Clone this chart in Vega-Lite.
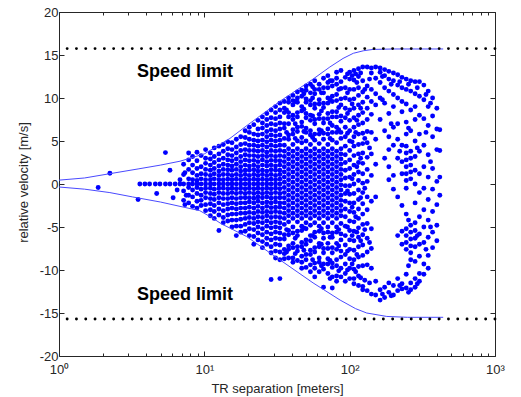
{
"$schema":"https://vega.github.io/schema/vega-lite/v6.json",
"width":436,"height":344,
"autosize":{"type":"none"},
"padding":{"left":59,"top":12,"right":26,"bottom":41},
"background":"white",
"config":{"view":{"stroke":"#262626","strokeWidth":1},"font":"Liberation Sans"},
"datasets":{
"pts":[
{"d":1.86,"v":-0.4},{"d":2.24,"v":1.25},{"d":3.5,"v":-1.8},{"d":3.6,"v":0},{"d":3.9,"v":0},{"d":4.2,"v":0},{"d":4.6,"v":0},{"d":4.95,"v":0},{"d":5.4,"v":0},{"d":5.8,"v":0},{"d":6.3,"v":0},{"d":6.8,"v":0},{"d":5.4,"v":3.65},{"d":4.7,"v":-1.1},{"d":5.8,"v":1.6},{"d":6.8,"v":0.5},{"d":6.5,"v":-0.7},{"d":7.35,"v":1.3},{"d":7.5,"v":-1.3},{"d":7.35,"v":-2.4},{"d":6.1,"v":-1.6},
{"d":7.2,"v":0},{"d":7.2,"v":1.1},{"d":7.2,"v":-0.8},{"d":7.2,"v":2.3},{"d":7.2,"v":-1.9},
{"d":7.8,"v":0},{"d":7.8,"v":0.6},{"d":7.8,"v":-0.4},{"d":7.8,"v":1.7},{"d":7.8,"v":-1.3},{"d":7.8,"v":2.8},{"d":7.8,"v":-2.2},{"d":7.8,"v":3.6},
{"d":8.3,"v":0},{"d":8.3,"v":0.5},{"d":8.3,"v":1.3},{"d":8.3,"v":-0.7},{"d":8.3,"v":-1.5},{"d":8.3,"v":2.2},{"d":8.3,"v":3.2},{"d":8.3,"v":-2.6},
{"d":8.9,"v":0},{"d":8.9,"v":0.4},{"d":8.9,"v":1.0},{"d":8.9,"v":-0.4},{"d":8.9,"v":-1.1},{"d":8.9,"v":1.8},{"d":8.9,"v":-2.0},{"d":8.9,"v":2.7},{"d":8.9,"v":-2.8},{"d":8.9,"v":3.7},
{"d":9.5,"v":0},{"d":9.5,"v":0.6},{"d":9.5,"v":1.2},{"d":9.5,"v":-0.6},{"d":9.5,"v":-1.3},{"d":9.5,"v":2.0},{"d":9.5,"v":-1.9},{"d":9.5,"v":3.3},{"d":9.5,"v":-2.5},
{"d":10.2,"v":0},{"d":10.2,"v":0.5},{"d":10.2,"v":1.1},{"d":10.2,"v":1.7},{"d":10.2,"v":-0.5},{"d":10.2,"v":-1.0},{"d":10.2,"v":-1.6},{"d":10.2,"v":2.4},{"d":10.2,"v":-2.4},{"d":10.2,"v":3.0},{"d":10.2,"v":-3.1},{"d":10.2,"v":4.0},
{"d":11.0,"v":0},{"d":11.0,"v":0.5},{"d":11.0,"v":1.0},{"d":11.0,"v":1.6},{"d":11.0,"v":2.2},{"d":11.0,"v":-0.5},{"d":11.0,"v":-1.1},{"d":11.0,"v":-1.7},{"d":11.0,"v":-2.3},{"d":11.0,"v":2.9},{"d":11.0,"v":-3.0},{"d":11.0,"v":3.6},{"d":11.0,"v":-3.7},
{"d":11.7,"v":0},{"d":11.7,"v":0.6},{"d":11.7,"v":1.2},{"d":11.7,"v":1.8},{"d":11.7,"v":2.5},{"d":11.7,"v":-0.6},{"d":11.7,"v":-1.2},{"d":11.7,"v":-1.8},{"d":11.7,"v":-2.5},{"d":11.7,"v":3.2},{"d":11.7,"v":-3.2},{"d":11.7,"v":4.2},{"d":11.7,"v":-4.0},
{"d":12.6,"v":0},{"d":12.6,"v":0.5},{"d":12.6,"v":1.0},{"d":12.6,"v":1.5},{"d":12.6,"v":2.1},{"d":12.6,"v":2.8},{"d":12.6,"v":3.5},{"d":12.6,"v":-0.5},{"d":12.6,"v":-1.0},{"d":12.6,"v":-1.6},{"d":12.6,"v":-2.2},{"d":12.6,"v":-2.9},{"d":12.6,"v":-3.6},{"d":12.6,"v":4.4},{"d":12.6,"v":-5.4},
{"d":13.5,"v":0},{"d":13.5,"v":0.5},{"d":13.5,"v":1.1},{"d":13.5,"v":1.7},{"d":13.5,"v":2.3},{"d":13.5,"v":3.0},{"d":13.5,"v":-0.5},{"d":13.5,"v":-1.1},{"d":13.5,"v":-1.7},{"d":13.5,"v":-2.4},{"d":13.5,"v":-3.1},{"d":13.5,"v":3.8},{"d":13.5,"v":-3.9},{"d":13.5,"v":4.6},{"d":13.5,"v":-4.5},
{"d":14.5,"v":0},{"d":14.5,"v":0.55},{"d":14.5,"v":1.1},{"d":14.5,"v":1.65},{"d":14.5,"v":2.2},{"d":14.5,"v":2.8},{"d":14.5,"v":3.4},{"d":14.5,"v":4.1},{"d":14.5,"v":-0.55},{"d":14.5,"v":-1.1},{"d":14.5,"v":-1.7},{"d":14.5,"v":-2.3},{"d":14.5,"v":-2.9},{"d":14.5,"v":-3.6},{"d":14.5,"v":-4.3},{"d":14.5,"v":4.9},
{"d":15.5,"v":0},{"d":15.5,"v":0.5},{"d":15.5,"v":1.0},{"d":15.5,"v":1.6},{"d":15.5,"v":2.1},{"d":15.5,"v":2.7},{"d":15.5,"v":3.3},{"d":15.5,"v":4.0},{"d":15.5,"v":4.8},{"d":15.5,"v":-0.5},{"d":15.5,"v":-1.0},{"d":15.5,"v":-1.6},{"d":15.5,"v":-2.2},{"d":15.5,"v":-2.8},{"d":15.5,"v":-3.5},{"d":15.5,"v":-4.2},{"d":15.5,"v":-5.0},
{"d":16.6,"v":0},{"d":16.6,"v":0.55},{"d":16.6,"v":1.1},{"d":16.6,"v":1.7},{"d":16.6,"v":2.3},{"d":16.6,"v":2.9},{"d":16.6,"v":3.6},{"d":16.6,"v":4.3},{"d":16.6,"v":5.2},{"d":16.6,"v":-0.55},{"d":16.6,"v":-1.1},{"d":16.6,"v":-1.7},{"d":16.6,"v":-2.3},{"d":16.6,"v":-2.9},{"d":16.6,"v":-3.5},{"d":16.6,"v":-4.2},{"d":16.6,"v":-4.9},{"d":16.6,"v":-6.0},
{"d":17.8,"v":0},{"d":17.8,"v":0.5},{"d":17.8,"v":1.0},{"d":17.8,"v":1.5},{"d":17.8,"v":2.0},{"d":17.8,"v":2.6},{"d":17.8,"v":3.2},{"d":17.8,"v":3.9},{"d":17.8,"v":4.6},{"d":17.8,"v":5.5},{"d":17.8,"v":-0.5},{"d":17.8,"v":-1.0},{"d":17.8,"v":-1.6},{"d":17.8,"v":-2.2},{"d":17.8,"v":-2.8},{"d":17.8,"v":-3.4},{"d":17.8,"v":-4.1},{"d":17.8,"v":-4.9},{"d":17.8,"v":-5.6},
{"d":19.1,"v":0},{"d":19.1,"v":0.55},{"d":19.1,"v":1.1},{"d":19.1,"v":1.6},{"d":19.1,"v":2.2},{"d":19.1,"v":2.8},{"d":19.1,"v":3.4},{"d":19.1,"v":4.0},{"d":19.1,"v":4.7},{"d":19.1,"v":5.4},{"d":19.1,"v":6.2},{"d":19.1,"v":-0.55},{"d":19.1,"v":-1.1},{"d":19.1,"v":-1.6},{"d":19.1,"v":-2.2},{"d":19.1,"v":-2.8},{"d":19.1,"v":-3.4},{"d":19.1,"v":-4.0},{"d":19.1,"v":-4.7},{"d":19.1,"v":-5.5},
{"d":20.4,"v":0},{"d":20.4,"v":0.5},{"d":20.4,"v":1.0},{"d":20.4,"v":1.6},{"d":20.4,"v":2.1},{"d":20.4,"v":2.7},{"d":20.4,"v":3.3},{"d":20.4,"v":3.9},{"d":20.4,"v":4.5},{"d":20.4,"v":5.2},{"d":20.4,"v":6.0},{"d":20.4,"v":6.6},{"d":20.4,"v":-0.5},{"d":20.4,"v":-1.0},{"d":20.4,"v":-1.6},{"d":20.4,"v":-2.1},{"d":20.4,"v":-2.7},{"d":20.4,"v":-3.3},{"d":20.4,"v":-3.9},{"d":20.4,"v":-4.5},{"d":20.4,"v":-5.2},{"d":20.4,"v":-6.0},
{"d":21.9,"v":0},{"d":21.9,"v":0.55},{"d":21.9,"v":1.1},{"d":21.9,"v":1.65},{"d":21.9,"v":2.2},{"d":21.9,"v":2.75},{"d":21.9,"v":3.3},{"d":21.9,"v":3.9},{"d":21.9,"v":4.5},{"d":21.9,"v":5.1},{"d":21.9,"v":5.8},{"d":21.9,"v":6.9},{"d":21.9,"v":-0.55},{"d":21.9,"v":-1.1},{"d":21.9,"v":-1.65},{"d":21.9,"v":-2.2},{"d":21.9,"v":-2.8},{"d":21.9,"v":-3.4},{"d":21.9,"v":-4.0},{"d":21.9,"v":-4.6},{"d":21.9,"v":-5.3},{"d":21.9,"v":-6.1},{"d":21.9,"v":-7.0},
{"d":23.4,"v":0},{"d":23.4,"v":0.5},{"d":23.4,"v":1.0},{"d":23.4,"v":1.5},{"d":23.4,"v":2.0},{"d":23.4,"v":2.6},{"d":23.4,"v":3.2},{"d":23.4,"v":3.8},{"d":23.4,"v":4.4},{"d":23.4,"v":5.0},{"d":23.4,"v":5.7},{"d":23.4,"v":6.4},{"d":23.4,"v":7.4},{"d":23.4,"v":-0.5},{"d":23.4,"v":-1.0},{"d":23.4,"v":-1.5},{"d":23.4,"v":-2.0},{"d":23.4,"v":-2.6},{"d":23.4,"v":-3.2},{"d":23.4,"v":-3.8},{"d":23.4,"v":-4.4},{"d":23.4,"v":-5.0},{"d":23.4,"v":-5.7},{"d":23.4,"v":-6.5},
{"d":25.1,"v":0},{"d":25.1,"v":0.55},{"d":25.1,"v":1.1},{"d":25.1,"v":1.6},{"d":25.1,"v":2.2},{"d":25.1,"v":2.8},{"d":25.1,"v":3.3},{"d":25.1,"v":3.9},{"d":25.1,"v":4.5},{"d":25.1,"v":5.1},{"d":25.1,"v":5.8},{"d":25.1,"v":6.5},{"d":25.1,"v":7.1},{"d":25.1,"v":7.8},{"d":25.1,"v":-0.55},{"d":25.1,"v":-1.1},{"d":25.1,"v":-1.6},{"d":25.1,"v":-2.2},{"d":25.1,"v":-2.8},{"d":25.1,"v":-3.3},{"d":25.1,"v":-3.9},{"d":25.1,"v":-4.5},{"d":25.1,"v":-5.2},{"d":25.1,"v":-5.9},{"d":25.1,"v":-6.7},{"d":25.1,"v":-7.4},
{"d":26.9,"v":0},{"d":26.9,"v":0.5},{"d":26.9,"v":1.0},{"d":26.9,"v":1.5},{"d":26.9,"v":2.1},{"d":26.9,"v":2.6},{"d":26.9,"v":3.2},{"d":26.9,"v":3.7},{"d":26.9,"v":4.3},{"d":26.9,"v":4.9},{"d":26.9,"v":5.5},{"d":26.9,"v":6.1},{"d":26.9,"v":6.8},{"d":26.9,"v":7.5},{"d":26.9,"v":8.2},{"d":26.9,"v":-0.5},{"d":26.9,"v":-1.0},{"d":26.9,"v":-1.5},{"d":26.9,"v":-2.1},{"d":26.9,"v":-2.6},{"d":26.9,"v":-3.2},{"d":26.9,"v":-3.7},{"d":26.9,"v":-4.3},{"d":26.9,"v":-4.9},{"d":26.9,"v":-5.6},{"d":26.9,"v":-6.3},{"d":26.9,"v":-7.0},
{"d":28.8,"v":0},{"d":28.8,"v":0.55},{"d":28.8,"v":1.1},{"d":28.8,"v":1.65},{"d":28.8,"v":2.2},{"d":28.8,"v":2.75},{"d":28.8,"v":3.3},{"d":28.8,"v":3.9},{"d":28.8,"v":4.5},{"d":28.8,"v":5.1},{"d":28.8,"v":5.7},{"d":28.8,"v":6.3},{"d":28.8,"v":7.0},{"d":28.8,"v":7.7},{"d":28.8,"v":8.6},{"d":28.8,"v":-0.55},{"d":28.8,"v":-1.1},{"d":28.8,"v":-1.65},{"d":28.8,"v":-2.2},{"d":28.8,"v":-2.75},{"d":28.8,"v":-3.3},{"d":28.8,"v":-3.9},{"d":28.8,"v":-4.5},{"d":28.8,"v":-5.1},{"d":28.8,"v":-5.8},{"d":28.8,"v":-6.5},{"d":28.8,"v":-7.3},{"d":28.8,"v":-8.0},{"d":28.8,"v":-11.1},
{"d":30.9,"v":0},{"d":30.9,"v":0.5},{"d":30.9,"v":1.0},{"d":30.9,"v":1.6},{"d":30.9,"v":2.1},{"d":30.9,"v":2.7},{"d":30.9,"v":3.2},{"d":30.9,"v":3.8},{"d":30.9,"v":4.4},{"d":30.9,"v":5.0},{"d":30.9,"v":5.6},{"d":30.9,"v":6.2},{"d":30.9,"v":6.9},{"d":30.9,"v":7.6},{"d":30.9,"v":8.3},{"d":30.9,"v":9.0},{"d":30.9,"v":-0.5},{"d":30.9,"v":-1.0},{"d":30.9,"v":-1.6},{"d":30.9,"v":-2.1},{"d":30.9,"v":-2.7},{"d":30.9,"v":-3.2},{"d":30.9,"v":-3.8},{"d":30.9,"v":-4.4},{"d":30.9,"v":-5.0},{"d":30.9,"v":-5.6},{"d":30.9,"v":-6.3},{"d":30.9,"v":-7.0},{"d":30.9,"v":-7.8},{"d":30.9,"v":-8.6},
{"d":33.1,"v":0},{"d":33.1,"v":0.55},{"d":33.1,"v":1.1},{"d":33.1,"v":1.6},{"d":33.1,"v":2.2},{"d":33.1,"v":2.7},{"d":33.1,"v":3.3},{"d":33.1,"v":3.9},{"d":33.1,"v":4.5},{"d":33.1,"v":5.1},{"d":33.1,"v":5.7},{"d":33.1,"v":6.4},{"d":33.1,"v":7.1},{"d":33.1,"v":7.8},{"d":33.1,"v":8.6},{"d":33.1,"v":9.4},{"d":33.1,"v":-0.55},{"d":33.1,"v":-1.1},{"d":33.1,"v":-1.6},{"d":33.1,"v":-2.2},{"d":33.1,"v":-2.7},{"d":33.1,"v":-3.3},{"d":33.1,"v":-3.9},{"d":33.1,"v":-4.5},{"d":33.1,"v":-5.1},{"d":33.1,"v":-5.7},{"d":33.1,"v":-6.4},{"d":33.1,"v":-7.1},{"d":33.1,"v":-7.9},{"d":33.1,"v":-8.8},{"d":33.1,"v":-11.0},
{"d":35.5,"v":-4.0},{"d":35.5,"v":-3.4},{"d":35.5,"v":-2.8},{"d":35.5,"v":-2.2},{"d":35.5,"v":-1.6},{"d":35.5,"v":-1.0},{"d":35.5,"v":-0.4},{"d":35.5,"v":0.2},{"d":35.5,"v":0.8},{"d":35.5,"v":1.4},{"d":35.5,"v":2.0},{"d":35.5,"v":2.6},{"d":35.5,"v":3.2},{"d":35.5,"v":3.8},{"d":35.5,"v":4.5},{"d":35.5,"v":5.3},{"d":35.5,"v":6.5},{"d":35.5,"v":7.0},{"d":35.5,"v":8.3},{"d":35.5,"v":8.8},{"d":35.5,"v":9.6},{"d":35.5,"v":-4.7},{"d":35.5,"v":-5.9},{"d":35.5,"v":-6.4},{"d":35.5,"v":-7.6},{"d":35.5,"v":-8.1},{"d":35.5,"v":-8.7},
{"d":36.8,"v":6.0},{"d":36.8,"v":8.6},{"d":36.8,"v":-5.3},{"d":36.8,"v":-7.9},
{"d":38.0,"v":-3.7},{"d":38.0,"v":-3.1},{"d":38.0,"v":-2.5},{"d":38.0,"v":-1.9},{"d":38.0,"v":-1.3},{"d":38.0,"v":-0.7},{"d":38.0,"v":-0.1},{"d":38.0,"v":0.5},{"d":38.0,"v":1.1},{"d":38.0,"v":1.7},{"d":38.0,"v":2.3},{"d":38.0,"v":2.9},{"d":38.0,"v":3.5},{"d":38.0,"v":4.1},{"d":38.0,"v":5.2},{"d":38.0,"v":5.7},{"d":38.0,"v":7.0},{"d":38.0,"v":7.8},{"d":38.0,"v":8.3},{"d":38.0,"v":9.5},{"d":38.0,"v":10.0},{"d":38.0,"v":-4.4},{"d":38.0,"v":-5.4},{"d":38.0,"v":-5.9},{"d":38.0,"v":-7.2},{"d":38.0,"v":-7.6},{"d":38.0,"v":-8.6},
{"d":40.7,"v":-4.0},{"d":40.7,"v":-3.4},{"d":40.7,"v":-2.8},{"d":40.7,"v":-2.2},{"d":40.7,"v":-1.6},{"d":40.7,"v":-1.0},{"d":40.7,"v":-0.4},{"d":40.7,"v":0.2},{"d":40.7,"v":0.8},{"d":40.7,"v":1.4},{"d":40.7,"v":2.0},{"d":40.7,"v":2.6},{"d":40.7,"v":3.2},{"d":40.7,"v":3.8},{"d":40.7,"v":4.6},{"d":40.7,"v":5.8},{"d":40.7,"v":6.3},{"d":40.7,"v":7.5},{"d":40.7,"v":8.0},{"d":40.7,"v":9.2},{"d":40.7,"v":9.7},{"d":40.7,"v":10.3},{"d":40.7,"v":-5.0},{"d":40.7,"v":-5.7},{"d":40.7,"v":-6.9},{"d":40.7,"v":-7.4},{"d":40.7,"v":-8.6},{"d":40.7,"v":-9.1},
{"d":42.2,"v":5.3},{"d":42.2,"v":7.0},{"d":42.2,"v":9.6},{"d":42.2,"v":-6.3},{"d":42.2,"v":-8.1},
{"d":43.7,"v":-3.7},{"d":43.7,"v":-3.1},{"d":43.7,"v":-2.5},{"d":43.7,"v":-1.9},{"d":43.7,"v":-1.3},{"d":43.7,"v":-0.7},{"d":43.7,"v":-0.1},{"d":43.7,"v":0.5},{"d":43.7,"v":1.1},{"d":43.7,"v":1.7},{"d":43.7,"v":2.3},{"d":43.7,"v":2.9},{"d":43.7,"v":3.5},{"d":43.7,"v":4.1},{"d":43.7,"v":5.0},{"d":43.7,"v":6.1},{"d":43.7,"v":6.6},{"d":43.7,"v":7.8},{"d":43.7,"v":8.3},{"d":43.7,"v":9.5},{"d":43.7,"v":10.0},{"d":43.7,"v":10.7},{"d":43.7,"v":-4.4},{"d":43.7,"v":-5.5},{"d":43.7,"v":-6.0},{"d":43.7,"v":-7.3},{"d":43.7,"v":-7.8},{"d":43.7,"v":-8.9},
{"d":46.8,"v":-4.0},{"d":46.8,"v":-3.4},{"d":46.8,"v":-2.8},{"d":46.8,"v":-2.2},{"d":46.8,"v":-1.6},{"d":46.8,"v":-1.0},{"d":46.8,"v":-0.4},{"d":46.8,"v":0.2},{"d":46.8,"v":0.8},{"d":46.8,"v":1.4},{"d":46.8,"v":2.0},{"d":46.8,"v":2.6},{"d":46.8,"v":3.2},{"d":46.8,"v":3.8},{"d":46.8,"v":4.8},{"d":46.8,"v":5.4},{"d":46.8,"v":6.7},{"d":46.8,"v":7.2},{"d":46.8,"v":8.5},{"d":46.8,"v":9.0},{"d":46.8,"v":10.2},{"d":46.8,"v":10.9},{"d":46.8,"v":-4.9},{"d":46.8,"v":-5.4},{"d":46.8,"v":-6.8},{"d":46.8,"v":-7.3},{"d":46.8,"v":-8.4},{"d":46.8,"v":-9.1},{"d":46.8,"v":-9.8},
{"d":48.4,"v":6.1},{"d":48.4,"v":8.7},{"d":48.4,"v":10.5},{"d":48.4,"v":-5.1},{"d":48.4,"v":-7.7},
{"d":50.1,"v":-3.7},{"d":50.1,"v":-3.1},{"d":50.1,"v":-2.5},{"d":50.1,"v":-1.9},{"d":50.1,"v":-1.3},{"d":50.1,"v":-0.7},{"d":50.1,"v":-0.1},{"d":50.1,"v":0.5},{"d":50.1,"v":1.1},{"d":50.1,"v":1.7},{"d":50.1,"v":2.3},{"d":50.1,"v":2.9},{"d":50.1,"v":3.5},{"d":50.1,"v":4.1},{"d":50.1,"v":5.0},{"d":50.1,"v":6.0},{"d":50.1,"v":6.5},{"d":50.1,"v":7.7},{"d":50.1,"v":8.2},{"d":50.1,"v":9.5},{"d":50.1,"v":9.9},{"d":50.1,"v":10.9},{"d":50.1,"v":11.4},{"d":50.1,"v":-4.5},{"d":50.1,"v":-5.2},{"d":50.1,"v":-6.5},{"d":50.1,"v":-7.0},{"d":50.1,"v":-8.2},{"d":50.1,"v":-8.8},{"d":50.1,"v":-9.7},
{"d":53.7,"v":-4.0},{"d":53.7,"v":-3.4},{"d":53.7,"v":-2.8},{"d":53.7,"v":-2.2},{"d":53.7,"v":-1.6},{"d":53.7,"v":-1.0},{"d":53.7,"v":-0.4},{"d":53.7,"v":0.2},{"d":53.7,"v":0.8},{"d":53.7,"v":1.4},{"d":53.7,"v":2.0},{"d":53.7,"v":2.6},{"d":53.7,"v":3.2},{"d":53.7,"v":3.8},{"d":53.7,"v":4.6},{"d":53.7,"v":5.7},{"d":53.7,"v":6.2},{"d":53.7,"v":7.4},{"d":53.7,"v":8.0},{"d":53.7,"v":9.2},{"d":53.7,"v":9.7},{"d":53.7,"v":10.6},{"d":53.7,"v":11.6},{"d":53.7,"v":-4.8},{"d":53.7,"v":-6.0},{"d":53.7,"v":-6.6},{"d":53.7,"v":-7.7},{"d":53.7,"v":-8.2},{"d":53.7,"v":-9.4},{"d":53.7,"v":-10.2},
{"d":55.6,"v":5.4},{"d":55.6,"v":7.9},{"d":55.6,"v":10.0},{"d":55.6,"v":11.3},{"d":55.6,"v":-6.0},{"d":55.6,"v":-8.8},
{"d":57.5,"v":-3.7},{"d":57.5,"v":-3.1},{"d":57.5,"v":-2.5},{"d":57.5,"v":-1.9},{"d":57.5,"v":-1.3},{"d":57.5,"v":-0.7},{"d":57.5,"v":-0.1},{"d":57.5,"v":0.5},{"d":57.5,"v":1.1},{"d":57.5,"v":1.7},{"d":57.5,"v":2.3},{"d":57.5,"v":2.9},{"d":57.5,"v":3.5},{"d":57.5,"v":4.1},{"d":57.5,"v":5.1},{"d":57.5,"v":5.8},{"d":57.5,"v":7.0},{"d":57.5,"v":7.5},{"d":57.5,"v":8.8},{"d":57.5,"v":9.3},{"d":57.5,"v":10.5},{"d":57.5,"v":11.0},{"d":57.5,"v":12.0},{"d":57.5,"v":-4.5},{"d":57.5,"v":-5.6},{"d":57.5,"v":-6.2},{"d":57.5,"v":-7.4},{"d":57.5,"v":-7.9},{"d":57.5,"v":-9.2},{"d":57.5,"v":-9.8},{"d":57.5,"v":-10.8},
{"d":61.7,"v":-4.0},{"d":61.7,"v":-3.4},{"d":61.7,"v":-2.8},{"d":61.7,"v":-2.2},{"d":61.7,"v":-1.6},{"d":61.7,"v":-1.0},{"d":61.7,"v":-0.4},{"d":61.7,"v":0.2},{"d":61.7,"v":0.8},{"d":61.7,"v":1.4},{"d":61.7,"v":2.0},{"d":61.7,"v":2.6},{"d":61.7,"v":3.2},{"d":61.7,"v":3.8},{"d":61.7,"v":4.7},{"d":61.7,"v":5.8},{"d":61.7,"v":6.3},{"d":61.7,"v":7.6},{"d":61.7,"v":8.1},{"d":61.7,"v":9.3},{"d":61.7,"v":9.8},{"d":61.7,"v":11.0},{"d":61.7,"v":11.6},{"d":61.7,"v":-4.9},{"d":61.7,"v":-5.5},{"d":61.7,"v":-6.9},{"d":61.7,"v":-7.3},{"d":61.7,"v":-8.6},{"d":61.7,"v":-9.1},{"d":61.7,"v":-10.2},
{"d":63.9,"v":6.2},{"d":63.9,"v":8.5},{"d":63.9,"v":10.6},{"d":63.9,"v":-5.2},{"d":63.9,"v":-7.0},{"d":63.9,"v":-9.5},
{"d":66.1,"v":-3.7},{"d":66.1,"v":-3.1},{"d":66.1,"v":-2.5},{"d":66.1,"v":-1.9},{"d":66.1,"v":-1.3},{"d":66.1,"v":-0.7},{"d":66.1,"v":-0.1},{"d":66.1,"v":0.5},{"d":66.1,"v":1.1},{"d":66.1,"v":1.7},{"d":66.1,"v":2.3},{"d":66.1,"v":2.9},{"d":66.1,"v":3.5},{"d":66.1,"v":4.1},{"d":66.1,"v":5.2},{"d":66.1,"v":5.9},{"d":66.1,"v":7.1},{"d":66.1,"v":7.6},{"d":66.1,"v":8.9},{"d":66.1,"v":9.4},{"d":66.1,"v":10.6},{"d":66.1,"v":11.2},{"d":66.1,"v":12.3},{"d":66.1,"v":-4.5},{"d":66.1,"v":-5.7},{"d":66.1,"v":-6.3},{"d":66.1,"v":-7.5},{"d":66.1,"v":-8.0},{"d":66.1,"v":-9.3},{"d":66.1,"v":-9.9},{"d":66.1,"v":-12.0},
{"d":70.8,"v":-4.0},{"d":70.8,"v":-3.4},{"d":70.8,"v":-2.8},{"d":70.8,"v":-2.2},{"d":70.8,"v":-1.6},{"d":70.8,"v":-1.0},{"d":70.8,"v":-0.4},{"d":70.8,"v":0.2},{"d":70.8,"v":0.8},{"d":70.8,"v":1.4},{"d":70.8,"v":2.0},{"d":70.8,"v":2.6},{"d":70.8,"v":3.2},{"d":70.8,"v":3.8},{"d":70.8,"v":4.6},{"d":70.8,"v":5.8},{"d":70.8,"v":6.4},{"d":70.8,"v":7.6},{"d":70.8,"v":8.2},{"d":70.8,"v":9.4},{"d":70.8,"v":10.0},{"d":70.8,"v":11.2},{"d":70.8,"v":11.8},{"d":70.8,"v":12.6},{"d":70.8,"v":-5.0},{"d":70.8,"v":-5.6},{"d":70.8,"v":-6.9},{"d":70.8,"v":-7.5},{"d":70.8,"v":-8.7},{"d":70.8,"v":-9.3},{"d":70.8,"v":-10.4},
{"d":73.3,"v":5.3},{"d":73.3,"v":7.1},{"d":73.3,"v":9.8},{"d":73.3,"v":12.0},{"d":73.3,"v":-6.2},{"d":73.3,"v":-8.9},{"d":73.3,"v":-11.0},
{"d":75.9,"v":-3.7},{"d":75.9,"v":-3.1},{"d":75.9,"v":-2.5},{"d":75.9,"v":-1.9},{"d":75.9,"v":-1.3},{"d":75.9,"v":-0.7},{"d":75.9,"v":-0.1},{"d":75.9,"v":0.5},{"d":75.9,"v":1.1},{"d":75.9,"v":1.7},{"d":75.9,"v":2.3},{"d":75.9,"v":2.9},{"d":75.9,"v":3.5},{"d":75.9,"v":4.1},{"d":75.9,"v":5.1},{"d":75.9,"v":6.0},{"d":75.9,"v":6.8},{"d":75.9,"v":7.8},{"d":75.9,"v":8.4},{"d":75.9,"v":9.6},{"d":75.9,"v":10.2},{"d":75.9,"v":11.4},{"d":75.9,"v":12.0},{"d":75.9,"v":-4.5},{"d":75.9,"v":-5.7},{"d":75.9,"v":-6.2},{"d":75.9,"v":-7.4},{"d":75.9,"v":-8.0},{"d":75.9,"v":-9.2},{"d":75.9,"v":-9.7},{"d":75.9,"v":-10.8},{"d":75.9,"v":-12.1},
{"d":81.3,"v":-4.0},{"d":81.3,"v":-3.4},{"d":81.3,"v":-2.8},{"d":81.3,"v":-2.2},{"d":81.3,"v":-1.6},{"d":81.3,"v":-1.0},{"d":81.3,"v":-0.4},{"d":81.3,"v":0.2},{"d":81.3,"v":0.8},{"d":81.3,"v":1.4},{"d":81.3,"v":2.0},{"d":81.3,"v":2.6},{"d":81.3,"v":3.2},{"d":81.3,"v":3.8},{"d":81.3,"v":4.8},{"d":81.3,"v":6.0},{"d":81.3,"v":6.6},{"d":81.3,"v":7.8},{"d":81.3,"v":8.4},{"d":81.3,"v":9.7},{"d":81.3,"v":10.4},{"d":81.3,"v":11.6},{"d":81.3,"v":12.3},{"d":81.3,"v":13.0},{"d":81.3,"v":-5.0},{"d":81.3,"v":-5.6},{"d":81.3,"v":-6.9},{"d":81.3,"v":-7.6},{"d":81.3,"v":-8.8},{"d":81.3,"v":-9.5},{"d":81.3,"v":-10.7},{"d":81.3,"v":-11.3},
{"d":84.1,"v":6.3},{"d":84.1,"v":8.9},{"d":84.1,"v":11.0},{"d":84.1,"v":-5.3},{"d":84.1,"v":-7.2},{"d":84.1,"v":-10.1},
{"d":87.1,"v":-3.7},{"d":87.1,"v":-3.1},{"d":87.1,"v":-2.5},{"d":87.1,"v":-1.9},{"d":87.1,"v":-1.3},{"d":87.1,"v":-0.7},{"d":87.1,"v":-0.1},{"d":87.1,"v":0.5},{"d":87.1,"v":1.1},{"d":87.1,"v":1.7},{"d":87.1,"v":2.3},{"d":87.1,"v":2.9},{"d":87.1,"v":3.5},{"d":87.1,"v":4.1},{"d":87.1,"v":5.3},{"d":87.1,"v":6.0},{"d":87.1,"v":7.3},{"d":87.1,"v":7.9},{"d":87.1,"v":9.2},{"d":87.1,"v":9.9},{"d":87.1,"v":11.1},{"d":87.1,"v":11.9},{"d":87.1,"v":13.2},{"d":87.1,"v":-4.6},{"d":87.1,"v":-5.8},{"d":87.1,"v":-6.5},{"d":87.1,"v":-7.8},{"d":87.1,"v":-8.5},{"d":87.1,"v":-9.8},{"d":87.1,"v":-10.8},
{"d":93.3,"v":-3.8},{"d":93.3,"v":-2.9},{"d":93.3,"v":-2.0},{"d":93.3,"v":-1.1},{"d":93.3,"v":-0.2},{"d":93.3,"v":0.7},{"d":93.3,"v":1.6},{"d":93.3,"v":2.5},{"d":93.3,"v":3.4},{"d":93.3,"v":4.4},{"d":93.3,"v":5.5},{"d":93.3,"v":6.6},{"d":93.3,"v":7.7},{"d":93.3,"v":8.8},{"d":93.3,"v":10.0},{"d":93.3,"v":11.2},{"d":93.3,"v":12.4},{"d":93.3,"v":-4.9},{"d":93.3,"v":-6.0},{"d":93.3,"v":-7.1},{"d":93.3,"v":-8.2},{"d":93.3,"v":-9.3},{"d":93.3,"v":-10.4},{"d":93.3,"v":-11.3},
{"d":96.6,"v":5.9},{"d":96.6,"v":8.2},{"d":96.6,"v":10.6},{"d":96.6,"v":12.8},{"d":96.6,"v":-0.8},{"d":96.6,"v":-5.0},{"d":96.6,"v":-7.8},{"d":96.6,"v":-10.0},
{"d":100,"v":-3.2},{"d":100,"v":-2.2},{"d":100,"v":-1.2},{"d":100,"v":-0.2},{"d":100,"v":0.8},{"d":100,"v":1.8},{"d":100,"v":2.8},{"d":100,"v":3.9},{"d":100,"v":5.0},{"d":100,"v":6.2},{"d":100,"v":7.4},{"d":100,"v":8.6},{"d":100,"v":9.8},{"d":100,"v":11.0},{"d":100,"v":12.2},{"d":100,"v":13.0},{"d":100,"v":-4.3},{"d":100,"v":-5.4},{"d":100,"v":-6.5},{"d":100,"v":-7.6},{"d":100,"v":-8.7},{"d":100,"v":-9.8},{"d":100,"v":-11.0},
{"d":104,"v":12.6},{"d":104,"v":9.3},{"d":104,"v":4.9},{"d":104,"v":0.6},{"d":104,"v":-2.7},{"d":104,"v":-6.0},{"d":104,"v":-9.3},
{"d":107,"v":13.2},{"d":107,"v":12.1},{"d":107,"v":11.0},{"d":107,"v":9.9},{"d":107,"v":8.8},{"d":107,"v":7.7},{"d":107,"v":6.6},{"d":107,"v":5.5},{"d":107,"v":4.4},{"d":107,"v":3.3},{"d":107,"v":2.2},{"d":107,"v":1.1},{"d":107,"v":0.0},{"d":107,"v":-1.1},{"d":107,"v":-2.2},{"d":107,"v":-3.3},{"d":107,"v":-4.4},{"d":107,"v":-5.5},{"d":107,"v":-6.6},{"d":107,"v":-7.7},{"d":107,"v":-8.8},{"d":107,"v":-9.9},{"d":107,"v":-11.0},{"d":107,"v":-11.6},
{"d":110,"v":12.8},{"d":110,"v":6.0},{"d":110,"v":-3.8},{"d":110,"v":-10.2},
{"d":112,"v":11.8},{"d":112,"v":7.4},{"d":112,"v":2.0},{"d":112,"v":-5.6},{"d":112,"v":-8.2},
{"d":115,"v":13.4},{"d":115,"v":12.5},{"d":115,"v":11.2},{"d":115,"v":10.3},{"d":115,"v":9.2},{"d":115,"v":8.0},{"d":115,"v":6.9},{"d":115,"v":5.8},{"d":115,"v":4.6},{"d":115,"v":3.5},{"d":115,"v":2.5},{"d":115,"v":1.4},{"d":115,"v":0.4},{"d":115,"v":-0.7},{"d":115,"v":-1.8},{"d":115,"v":-2.9},{"d":115,"v":-4.0},{"d":115,"v":-5.1},{"d":115,"v":-6.2},{"d":115,"v":-7.3},{"d":115,"v":-8.5},{"d":115,"v":-9.6},{"d":115,"v":-10.7},{"d":115,"v":-11.8},
{"d":119,"v":12.9},{"d":119,"v":8.8},{"d":119,"v":3.0},{"d":119,"v":-1.6},{"d":119,"v":-6.6},{"d":119,"v":-10.9},
{"d":123,"v":13.6},{"d":123,"v":12.0},{"d":123,"v":10.7},{"d":123,"v":9.5},{"d":123,"v":8.3},{"d":123,"v":7.1},{"d":123,"v":5.9},{"d":123,"v":4.7},{"d":123,"v":3.6},{"d":123,"v":2.4},{"d":123,"v":1.2},{"d":123,"v":0.1},{"d":123,"v":-1.0},{"d":123,"v":-2.3},{"d":123,"v":-3.5},{"d":123,"v":-4.7},{"d":123,"v":-5.9},{"d":123,"v":-7.1},{"d":123,"v":-8.3},{"d":123,"v":-9.5},{"d":123,"v":-11.9},{"d":123,"v":-12.3},
{"d":127,"v":11.0},{"d":127,"v":5.3},{"d":127,"v":-0.5},{"d":127,"v":-5.3},{"d":127,"v":-11.2},
{"d":132,"v":13.6},{"d":132,"v":11.4},{"d":132,"v":10.1},{"d":132,"v":8.8},{"d":132,"v":7.5},{"d":132,"v":6.1},{"d":132,"v":4.8},{"d":132,"v":3.1},{"d":132,"v":1.7},{"d":132,"v":0.3},{"d":132,"v":-1.5},{"d":132,"v":-3.0},{"d":132,"v":-4.6},{"d":132,"v":-6.3},{"d":132,"v":-7.9},{"d":132,"v":-9.4},{"d":132,"v":-12.4},
{"d":137,"v":12.2},{"d":137,"v":4.2},{"d":137,"v":-6.8},{"d":137,"v":-11.5},
{"d":141,"v":13.5},{"d":141,"v":12.9},{"d":141,"v":11.0},{"d":141,"v":9.6},{"d":141,"v":8.1},{"d":141,"v":6.0},{"d":141,"v":3.5},{"d":141,"v":1.0},{"d":141,"v":-2.0},{"d":141,"v":-5.2},{"d":141,"v":-7.5},{"d":141,"v":-9.8},{"d":141,"v":-12.8},
{"d":151,"v":13.6},{"d":151,"v":12.3},{"d":151,"v":10.5},{"d":151,"v":9.2},{"d":151,"v":5.2},{"d":151,"v":2.3},{"d":151,"v":-1.5},{"d":151,"v":-11.3},{"d":151,"v":-12.9},
{"d":162,"v":13.5},{"d":162,"v":13.0},{"d":162,"v":11.8},{"d":162,"v":10.0},{"d":162,"v":7.5},{"d":162,"v":-12.3},{"d":162,"v":-13.5},
{"d":168,"v":12.5},{"d":168,"v":9.8},{"d":168,"v":-12.8},
{"d":174,"v":13.3},{"d":174,"v":12.6},{"d":174,"v":11.2},{"d":174,"v":9.4},{"d":174,"v":6.2},{"d":174,"v":3.0},{"d":174,"v":-12.0},{"d":174,"v":-13.2},
{"d":186,"v":13.1},{"d":186,"v":12.2},{"d":186,"v":10.8},{"d":186,"v":8.2},{"d":186,"v":5.5},{"d":186,"v":4.0},{"d":186,"v":2.0},{"d":186,"v":0.5},{"d":186,"v":-11.5},{"d":186,"v":-12.6},
{"d":193,"v":11.6},{"d":193,"v":7.0},{"d":193,"v":-13.0},
{"d":200,"v":12.9},{"d":200,"v":12.0},{"d":200,"v":10.4},{"d":200,"v":9.0},{"d":200,"v":6.6},{"d":200,"v":4.5},{"d":200,"v":1.0},{"d":200,"v":-0.6},{"d":200,"v":-11.8},{"d":200,"v":-12.9},
{"d":214,"v":12.7},{"d":214,"v":11.5},{"d":214,"v":10.0},{"d":214,"v":7.0},{"d":214,"v":5.2},{"d":214,"v":3.0},{"d":214,"v":-1.5},{"d":214,"v":-6.0},{"d":214,"v":-11.0},{"d":214,"v":-12.4},
{"d":221,"v":11.9},{"d":221,"v":3.8},{"d":221,"v":-11.8},
{"d":229,"v":12.4},{"d":229,"v":11.2},{"d":229,"v":9.6},{"d":229,"v":8.4},{"d":229,"v":4.5},{"d":229,"v":2.6},{"d":229,"v":1.2},{"d":229,"v":-2.5},{"d":229,"v":-5.5},{"d":229,"v":-7.0},{"d":229,"v":-11.6},{"d":229,"v":-12.2},
{"d":245,"v":12.2},{"d":245,"v":11.0},{"d":245,"v":9.3},{"d":245,"v":7.2},{"d":245,"v":5.8},{"d":245,"v":4.4},{"d":245,"v":3.6},{"d":245,"v":2.8},{"d":245,"v":2.0},{"d":245,"v":1.2},{"d":245,"v":0.4},{"d":245,"v":-0.5},{"d":245,"v":-3.5},{"d":245,"v":-5.2},{"d":245,"v":-6.0},{"d":245,"v":-6.8},{"d":245,"v":-7.6},{"d":245,"v":-10.5},{"d":245,"v":-12.1},
{"d":254,"v":11.6},{"d":254,"v":6.5},{"d":254,"v":-4.2},{"d":254,"v":-9.5},{"d":254,"v":-12.6},
{"d":263,"v":12.0},{"d":263,"v":10.8},{"d":263,"v":8.6},{"d":263,"v":6.2},{"d":263,"v":3.8},{"d":263,"v":3.0},{"d":263,"v":2.2},{"d":263,"v":1.4},{"d":263,"v":0.6},{"d":263,"v":-4.8},{"d":263,"v":-5.6},{"d":263,"v":-6.4},{"d":263,"v":-7.2},{"d":263,"v":-8.0},{"d":263,"v":-8.8},{"d":263,"v":-11.5},{"d":263,"v":-12.3},
{"d":282,"v":11.9},{"d":282,"v":10.5},{"d":282,"v":9.0},{"d":282,"v":7.5},{"d":282,"v":5.0},{"d":282,"v":3.2},{"d":282,"v":1.6},{"d":282,"v":0.0},{"d":282,"v":-2.2},{"d":282,"v":-4.5},{"d":282,"v":-5.4},{"d":282,"v":-6.3},{"d":282,"v":-7.3},{"d":282,"v":-9.0},{"d":282,"v":-11.0},{"d":282,"v":-12.0},
{"d":292,"v":11.2},{"d":292,"v":4.2},{"d":292,"v":-6.0},{"d":292,"v":-11.6},
{"d":302,"v":11.9},{"d":302,"v":10.2},{"d":302,"v":8.0},{"d":302,"v":5.8},{"d":302,"v":3.8},{"d":302,"v":1.2},{"d":302,"v":-1.0},{"d":302,"v":-3.8},{"d":302,"v":-5.8},{"d":302,"v":-7.0},{"d":302,"v":-8.4},{"d":302,"v":-10.4},{"d":302,"v":-11.3},
{"d":324,"v":11.5},{"d":324,"v":9.8},{"d":324,"v":7.6},{"d":324,"v":4.5},{"d":324,"v":2.0},{"d":324,"v":-0.5},{"d":324,"v":-3.0},{"d":324,"v":-5.0},{"d":324,"v":-6.8},{"d":324,"v":-9.3},{"d":324,"v":-10.5},
{"d":335,"v":10.4},{"d":335,"v":6.0},{"d":335,"v":-7.6},
{"d":347,"v":10.8},{"d":347,"v":9.0},{"d":347,"v":6.8},{"d":347,"v":3.4},{"d":347,"v":0.8},{"d":347,"v":-1.8},{"d":347,"v":-4.2},{"d":347,"v":-6.2},{"d":347,"v":-8.3},{"d":347,"v":-9.8},
{"d":360,"v":9.4},{"d":360,"v":2.6},{"d":360,"v":-5.0},
{"d":372,"v":10.0},{"d":372,"v":7.9},{"d":372,"v":5.5},{"d":372,"v":1.8},{"d":372,"v":-0.6},{"d":372,"v":-3.2},{"d":372,"v":-5.6},{"d":372,"v":-7.4},
{"d":398,"v":8.8},{"d":398,"v":6.4},{"d":398,"v":4.0},{"d":398,"v":0.3},{"d":398,"v":-2.4},{"d":398,"v":-4.8},{"d":398,"v":-6.6},
{"d":417,"v":6.3},{"d":417,"v":3.9},{"d":417,"v":0.8},{"d":417,"v":-1.3}
],
"env":[
{"d":1,"v":0.45,"side":"upper"},{"d":1.5,"v":0.7,"side":"upper"},{"d":2.24,"v":1.2,"side":"upper"},{"d":3.5,"v":1.75,"side":"upper"},{"d":5,"v":2.2,"side":"upper"},{"d":6.8,"v":2.65,"side":"upper"},{"d":10,"v":3.5,"side":"upper"},{"d":15,"v":5.3,"side":"upper"},{"d":20,"v":6.9,"side":"upper"},{"d":25,"v":8.1,"side":"upper"},{"d":33,"v":9.6,"side":"upper"},{"d":43,"v":10.9,"side":"upper"},{"d":56,"v":12.2,"side":"upper"},{"d":73,"v":13.6,"side":"upper"},{"d":90,"v":14.6,"side":"upper"},{"d":106,"v":15.2,"side":"upper"},{"d":125,"v":15.5,"side":"upper"},{"d":145,"v":15.65,"side":"upper"},{"d":200,"v":15.7,"side":"upper"},{"d":440,"v":15.7,"side":"upper"},
{"d":1,"v":-0.35,"side":"lower"},{"d":1.5,"v":-0.6,"side":"lower"},{"d":2.24,"v":-1.0,"side":"lower"},{"d":3.2,"v":-1.5,"side":"lower"},{"d":5,"v":-2.1,"side":"lower"},{"d":6.8,"v":-2.6,"side":"lower"},{"d":9.3,"v":-3.1,"side":"lower"},{"d":11.5,"v":-4.0,"side":"lower"},{"d":13,"v":-4.6,"side":"lower"},{"d":19.5,"v":-6.1,"side":"lower"},{"d":33,"v":-8.8,"side":"lower"},{"d":56,"v":-11.5,"side":"lower"},{"d":86,"v":-13.5,"side":"lower"},{"d":110,"v":-14.5,"side":"lower"},{"d":131,"v":-15.0,"side":"lower"},{"d":180,"v":-15.4,"side":"lower"},{"d":250,"v":-15.5,"side":"lower"},{"d":440,"v":-15.5,"side":"lower"}
],
"lim":[{"v":15.75},{"v":-15.7}],
"lab":[{"d":3.44,"v":12.45,"t":"Speed limit"},{"d":3.44,"v":-13.5,"t":"Speed limit"}]
},
"layer":[
{"data":{"name":"pts"},
 "mark":{"type":"point","shape":"circle","filled":true,"size":24,"color":"#0000ff","opacity":1},
 "encoding":{
  "x":{"field":"d","type":"quantitative","scale":{"type":"log","domain":[1,1000]},
   "axis":{"orient":"bottom","values":[1,2,3,4,5,6,7,8,9,10,20,30,40,50,60,70,80,90,100,200,300,400,500,600,700,800,900,1000],
    "labelExpr":"datum.value==1?'10⁰':datum.value==10?'10¹':datum.value==100?'10²':datum.value==1000?'10³':''",
    "tickSize":{"condition":{"test":"datum.value==1||datum.value==10||datum.value==100||datum.value==1000","value":-5},"value":-3},
    "tickColor":"#262626","domain":false,"grid":false,"labelFlush":false,"labelOverlap":false,
    "labelFont":"Liberation Sans","labelFontSize":13,"labelColor":"#262626","labelPadding":12,
    "title":"TR separation [meters]","titleFont":"Liberation Sans","titleFontSize":13,"titleFontWeight":"normal","titleColor":"#262626","titleY":36,"titleBaseline":"alphabetic"}},
  "y":{"field":"v","type":"quantitative","scale":{"domain":[-20,20]},
   "axis":{"orient":"left","values":[-20,-15,-10,-5,0,5,10,15,20],"labelExpr":"''+datum.value",
    "tickSize":-5,"tickColor":"#262626","domain":false,"grid":false,"labelOverlap":false,"labelFlush":false,
    "labelFont":"Liberation Sans","labelFontSize":13,"labelColor":"#262626","labelPadding":6,
    "title":"relative velocity [m/s]","titleFont":"Liberation Sans","titleFontSize":13,"titleFontWeight":"normal","titleColor":"#262626","titleX":-36,"titleY":170,"titleBaseline":"middle","titleAngle":-90}}
 }},
{"data":{"name":"env"},
 "mark":{"type":"line","color":"#4a4aff","strokeWidth":1},
 "encoding":{
  "x":{"field":"d","type":"quantitative","scale":{"type":"log","domain":[1,1000]},
   "axis":{"orient":"top","values":[1,2,3,4,5,6,7,8,9,10,20,30,40,50,60,70,80,90,100,200,300,400,500,600,700,800,900,1000],"labels":false,"title":null,
    "tickSize":{"condition":{"test":"datum.value==1||datum.value==10||datum.value==100||datum.value==1000","value":-5},"value":-3},
    "tickColor":"#262626","domain":false,"grid":false}},
  "y":{"field":"v","type":"quantitative","scale":{"domain":[-20,20]},
   "axis":{"orient":"right","values":[-20,-15,-10,-5,0,5,10,15,20],"labels":false,"title":null,"tickSize":-5,"tickColor":"#262626","domain":false,"grid":false}},
  "detail":{"field":"side"}
 }},
{"data":{"name":"lim"},
 "mark":{"type":"rule","color":"#000000","strokeWidth":2.8,"strokeCap":"round","strokeDash":[0.1,9.2]},
 "encoding":{"y":{"field":"v","type":"quantitative","scale":{"domain":[-20,20]},"axis":null}}},
{"data":{"name":"lab"},
 "mark":{"type":"text","align":"left","baseline":"alphabetic","font":"Liberation Sans","fontSize":18,"fontWeight":"bold","color":"#000000"},
 "encoding":{
  "x":{"field":"d","type":"quantitative","scale":{"type":"log","domain":[1,1000]},"axis":null},
  "y":{"field":"v","type":"quantitative","scale":{"domain":[-20,20]},"axis":null},
  "text":{"field":"t"}}}
],
"resolve":{"axis":{"x":"independent","y":"independent"}}
}
